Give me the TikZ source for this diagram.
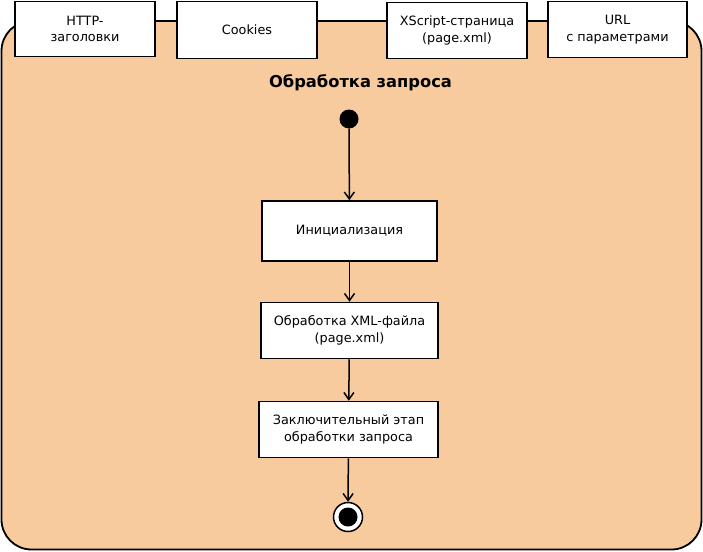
\documentclass[tikz,border=0pt]{standalone}
\usepackage{fontspec}
\setmainfont{DejaVu Sans}
\usetikzlibrary{arrows.meta}
\definecolor{peach}{HTML}{F7CB9D}
\begin{document}
\begin{tikzpicture}[x=1pt,y=-1pt,
  box/.style={draw=black,fill=white,line width=1.5pt,inner sep=0pt,align=center,font=\fontsize{12.8}{16.5}\selectfont},
  flow/.style={-{Straight Barb[length=7pt,width=10pt]},line width=1.5pt}]
\useasboundingbox (0,0) rectangle (703,551);
\draw[fill=peach,line width=1.8pt,rounded corners=30pt] (1.5,21) rectangle (701.5,549.5);
\node[box,minimum width=140pt,minimum height=55pt] (http) at (85,29) {HTTP-\\заголовки};
\node[box,minimum width=140pt,minimum height=57pt] (cook) at (247,30) {Cookies};
\node[box,minimum width=140pt,minimum height=56pt] (xs) at (457,30.5) {XScript-страница\\(page.xml)};
\node[box,minimum width=139pt,minimum height=56pt] (url) at (617.5,29.5) {URL\\с параметрами};
\node[font=\bfseries\fontsize{16.3}{20}\selectfont] (title) at (360.5,83) {Обработка запроса};
\node[circle,fill=black,minimum size=19pt,inner sep=0pt] (start) at (349,119) {};
\node[box,minimum width=175pt,minimum height=60pt] (init) at (349.5,231) {Инициализация};
\node[box,minimum width=177pt,minimum height=56pt] (xml) at (349.5,330.5) {Обработка XML-файла\\(page.xml)};
\node[box,minimum width=179pt,minimum height=56pt] (fin) at (348.5,429.5) {Заключительный этап\\обработки запроса};
\node[circle,draw=black,fill=white,line width=1.5pt,minimum size=29pt,inner sep=0pt] (end) at (348,517) {};
\node[circle,fill=black,minimum size=19pt,inner sep=0pt] at (end) {};
\draw[flow] (start) -- (init);
\draw[flow] (init) -- (xml);
\draw[flow] (xml) -- (fin);
\draw[flow] (fin) -- (end);
\end{tikzpicture}
\end{document}
